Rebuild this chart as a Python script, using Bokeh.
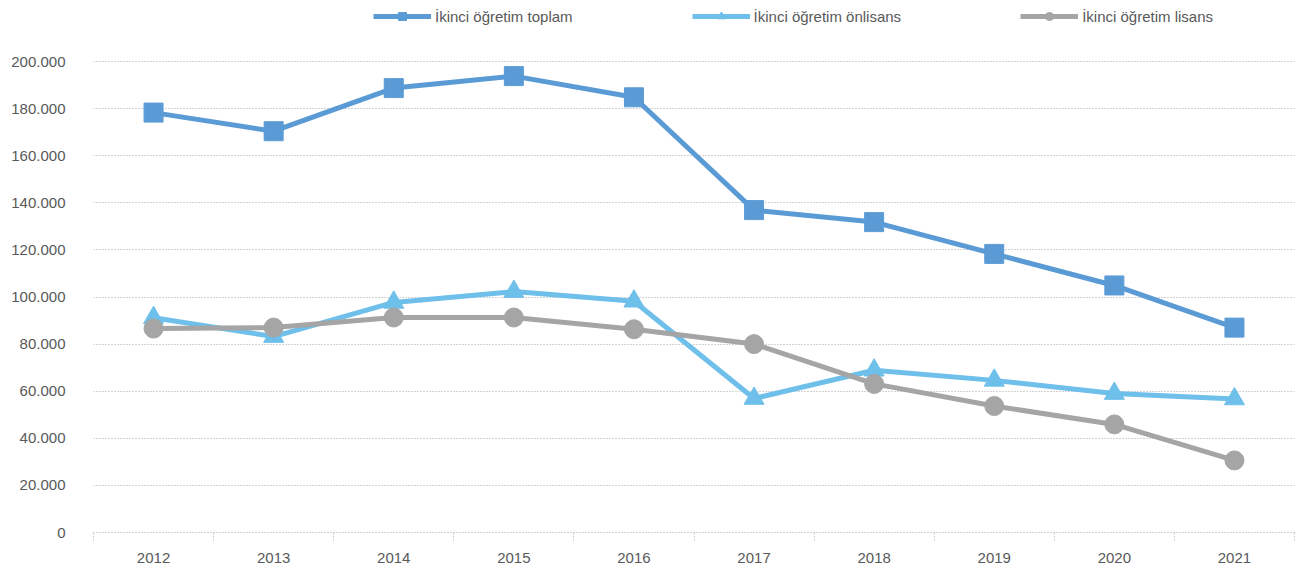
from bokeh.plotting import figure
from bokeh.models import Legend, LegendItem, FixedTicker, CustomJSTickFormatter, Range1d
from bokeh.embed import file_html
from bokeh.resources import INLINE

years = [2012, 2013, 2014, 2015, 2016, 2017, 2018, 2019, 2020, 2021]
toplam = [178300, 170400, 188700, 193800, 184800, 136900, 131800, 118300, 104900, 87000]
onlisans = [91200, 83200, 97700, 102300, 98200, 56900, 68900, 64600, 59000, 56700]
lisans = [86600, 87000, 91300, 91300, 86300, 80000, 63100, 53700, 45900, 30600]
series_names = ["İkinci öğretim toplam", "İkinci öğretim önlisans", "İkinci öğretim lisans"]
y_ticks = [0, 20000, 40000, 60000, 80000, 100000, 120000, 140000, 160000, 180000, 200000]

FONT = "Liberation Sans"
FS = "15px"
TXT = "#595959"
GRID = "#a6a6a6"

# frame spans the full height above the x axis; 200.000 sits 61px below the top
y_top = 200000 + 200000 * 61 / 471

p = figure(width=1301, height=577, output_backend="svg", toolbar_location=None,
           x_range=Range1d(years[0] - 0.5, years[-1] + 0.5), y_range=Range1d(0, y_top),
           min_border_left=93, min_border_right=7, min_border_top=0, min_border_bottom=45)
p.outline_line_color = None
p.background_fill_color = "white"
p.border_fill_color = "white"

# axes
xa = p.xaxis[0]
xa.ticker = FixedTicker(ticks=years, minor_ticks=[y - 0.5 for y in years] + [years[-1] + 0.5])
xa.major_tick_line_color = None
xa.major_tick_out = 0
xa.major_tick_in = 0
xa.minor_tick_in = 0
xa.minor_tick_out = 8
xa.minor_tick_line_color = GRID
xa.minor_tick_line_dash = "1 2"
xa.axis_line_color = GRID
xa.axis_line_dash = "1 2"
xa.major_label_standoff = 12
xa.major_label_text_font = FONT
xa.major_label_text_font_size = FS
xa.major_label_text_color = TXT
xa.formatter = CustomJSTickFormatter(code="return tick.toFixed(0);")

ya = p.yaxis[0]
ya.ticker = FixedTicker(ticks=y_ticks)
ya.axis_line_color = None
ya.major_tick_line_color = None
ya.minor_tick_line_color = None
ya.major_tick_out = 0
ya.major_tick_in = 0
ya.major_label_standoff = 28
ya.major_label_text_font = FONT
ya.major_label_text_font_size = FS
ya.major_label_text_color = TXT
ya.formatter = CustomJSTickFormatter(code="""
if (tick == 0) return '0';
var s = Math.round(tick).toString();
return s.replace(/\\B(?=(\\d{3})+(?!\\d))/g, '.');
""")

p.xgrid.grid_line_color = None
p.ygrid.ticker = FixedTicker(ticks=y_ticks[1:])
p.ygrid.grid_line_color = GRID
p.ygrid.grid_line_dash = "1 2"
p.ygrid.grid_line_width = 1

# series
c1, c2, c3 = "#5B9BD5", "#6EBFEA", "#A5A5A5"
l1 = p.line(years, toplam, line_color=c1, line_width=5)
m1 = p.scatter(years, toplam, marker="square", size=19, fill_color=c1, line_color=c1)
l2 = p.line(years, onlisans, line_color=c2, line_width=5)
m2 = p.scatter(years, onlisans, marker="triangle", size=20, fill_color=c2, line_color=c2)
l3 = p.line(years, lisans, line_color=c3, line_width=5)
m3 = p.scatter(years, lisans, marker="circle", size=19, fill_color=c3, line_color=c3)

legend = Legend(items=[
    LegendItem(label=series_names[0], renderers=[l1, m1]),
    LegendItem(label=series_names[1], renderers=[l2, m2]),
    LegendItem(label=series_names[2], renderers=[l3, m3]),
], location=(280, 506), orientation="horizontal")
legend.border_line_color = None
legend.background_fill_alpha = 0
legend.padding = 0
legend.margin = 0
legend.spacing = 119
legend.glyph_width = 58
legend.glyph_height = 20
legend.label_height = 20
legend.label_standoff = 4
legend.label_text_font = FONT
legend.label_text_font_size = FS
legend.label_text_color = TXT
p.add_layout(legend, "center")

open("out.html", "w").write(file_html(p, INLINE))
